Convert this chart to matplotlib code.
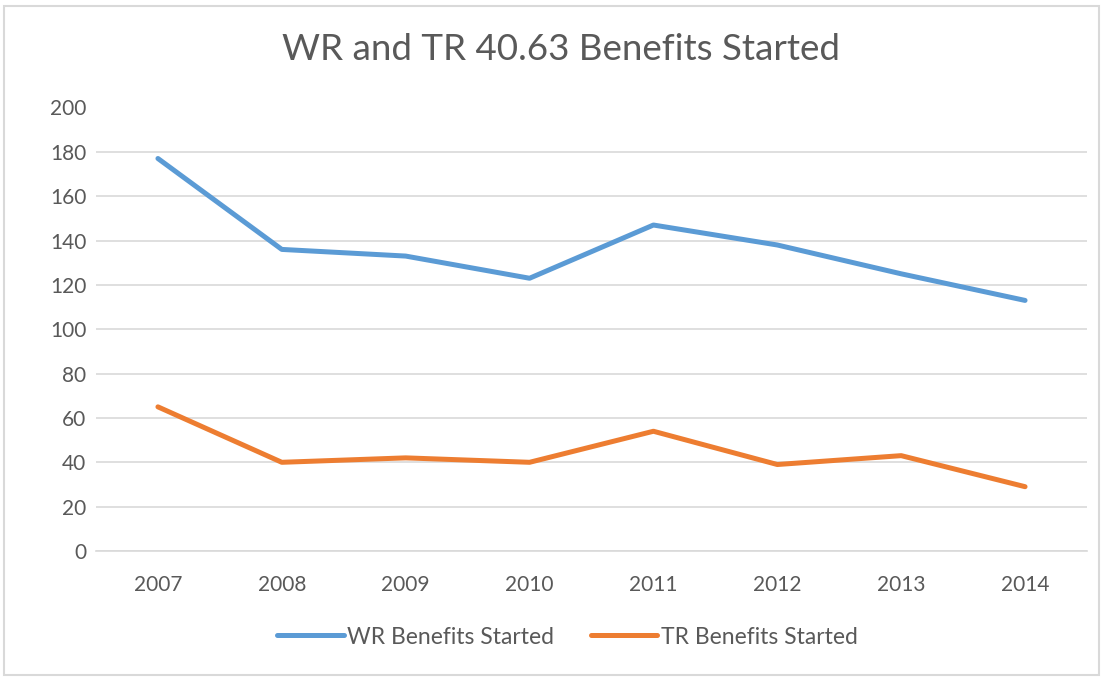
import matplotlib.pyplot as plt
from matplotlib.patches import Rectangle

years = ["2007", "2008", "2009", "2010", "2011", "2012", "2013", "2014"]
wr_started = [177, 136, 133, 123, 147, 138, 125, 113]
tr_started = [65, 40, 42, 40, 54, 39, 43, 29]

plt.rcParams["font.family"] = ["Lato", "DejaVu Sans"]
text_color = "#595959"

fig = plt.figure(figsize=(11.03, 6.77), dpi=100)
ax = fig.add_axes([96 / 1103, 1 - 551 / 677, (1087 - 96) / 1103, (551 - 107.5) / 677])

x = range(len(years))
ax.plot(x, wr_started, color="#5B9BD5", lw=3.6, solid_capstyle="round",
        solid_joinstyle="round", label="WR Benefits Started")
ax.plot(x, tr_started, color="#ED7D31", lw=3.6, solid_capstyle="round",
        solid_joinstyle="round", label="TR Benefits Started")

ax.set_xlim(-0.5, len(years) - 0.5)
ax.set_ylim(0, 200)
ax.set_yticks(range(0, 201, 20))
ax.set_xticks(list(x))
ax.set_xticklabels(years)
ax.grid(axis="y", color="#D9D9D9", lw=1.2)
ax.set_axisbelow(True)
for side in ["top", "right", "left"]:
    ax.spines[side].set_visible(False)
ax.spines["bottom"].set_color("#D9D9D9")
ax.spines["bottom"].set_linewidth(1.2)
ax.tick_params(length=0, labelsize=15, labelcolor=text_color)
ax.tick_params(axis="y", pad=7)
ax.tick_params(axis="x", pad=17)

fig.text(0.5 + 10 / 1103, 1 - 50 / 677, "WR and TR 40.63 Benefits Started", ha="center",
         va="center", fontsize=26.5, color=text_color)

fig.legend(loc="center", bbox_to_anchor=(0.5 + 16 / 1103, 1 - 637 / 677), ncol=2,
           frameon=False, fontsize=16.5, handlelength=2.9, columnspacing=1.6,
           labelcolor=text_color, handletextpad=0.15)

# light chart frame
fig.patches.append(Rectangle((4 / 1103, 0.003), 1 - 8 / 1103, 1 - 8 / 677, transform=fig.transFigure,
                             fill=False, edgecolor="#D9D9D9", lw=1.5))

fig.savefig("out.png", dpi=100)
